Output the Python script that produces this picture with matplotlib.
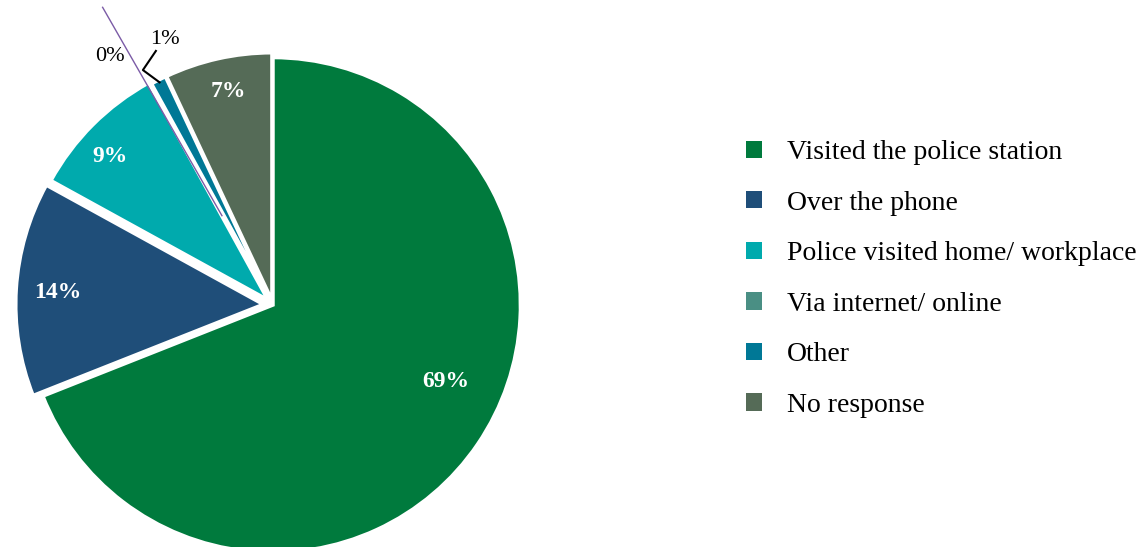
import matplotlib.pyplot as plt
import numpy as np
from matplotlib.patches import Patch

categories = ['Visited the police station', 'Over the phone',
              'Police visited home/ workplace', 'Via internet/ online',
              'Other', 'No response']
values = [69, 14, 9, 0, 1, 7]
pct_labels = ['69%', '14%', '9%', '0%', '1%', '7%']
colors = ['#007A3D', '#1F4E79', '#00AAAD', '#4A8F84', '#007896', '#556B57']

plt.rcParams['font.family'] = ['Liberation Serif', 'DejaVu Serif']

fig = plt.figure(figsize=(11.48, 5.47), dpi=100)
ax = fig.add_axes([0, 0, 0.5, 1])

explode = [0.0, 0.04, 0.03, 0.02, 0.02, 0.02]
wedges, _ = ax.pie(values, colors=colors, startangle=90, counterclock=False,
                   explode=explode, radius=1.01,
                   wedgeprops=dict(edgecolor='white', linewidth=2.5))

# pie centre at pixel (273, 305 from top), radius 245 px
cx, cy, r_px = 273, 547 - 305, 245
ax.set_xlim(-cx / r_px, (574 - cx) / r_px)
ax.set_ylim(-cy / r_px, (547 - cy) / r_px)
ax.axis('off')

# white labels inside the larger slices
label_r = {0: 0.77, 1: 0.88, 2: 0.90, 5: 0.89}
label_shift = {0: 10.3, 1: 0.3, 2: 2.7, 5: -0.9}
for i, w in enumerate(wedges):
    if i not in label_r:
        continue
    ang = np.deg2rad((w.theta1 + w.theta2) / 2 + label_shift[i])
    ax.text(label_r[i] * np.cos(ang), label_r[i] * np.sin(ang),
            pct_labels[i], color='white', fontsize=17, fontweight='bold',
            ha='center', va='center')

# the 0% slice is just a thin purple line
w0 = wedges[3]
ang0 = np.deg2rad(w0.theta1 + 1.0)
rr = np.array([0.4, 1.38])
ax.plot(w0.center[0] + rr * np.cos(ang0), w0.center[1] + rr * np.sin(ang0),
        color='#7B5BA6', lw=1)
ax.text(-0.665, 1.016, pct_labels[3], fontsize=16, ha='center', va='center')

# 1% label with leader line
w1 = wedges[4]
ang1 = np.deg2rad((w1.theta1 + w1.theta2) / 2)
px = w1.center[0] + 1.0 * np.cos(ang1)
py = w1.center[1] + 1.0 * np.sin(ang1)
ax.plot([px, -0.531, -0.478], [py, 0.959, 1.037], color='black', lw=1.5)
ax.text(-0.441, 1.085, pct_labels[4], fontsize=16, ha='center', va='center')

handles = [Patch(facecolor=c, edgecolor='none') for c in colors]
fig.legend(handles=handles, labels=categories, loc='center left',
           bbox_to_anchor=(721 / 1148, 1 - 279 / 547), frameon=False,
           fontsize=20, handlelength=0.58, handleheight=0.58,
           labelspacing=0.92, handletextpad=0.9)

fig.savefig('out.png', dpi=100)
